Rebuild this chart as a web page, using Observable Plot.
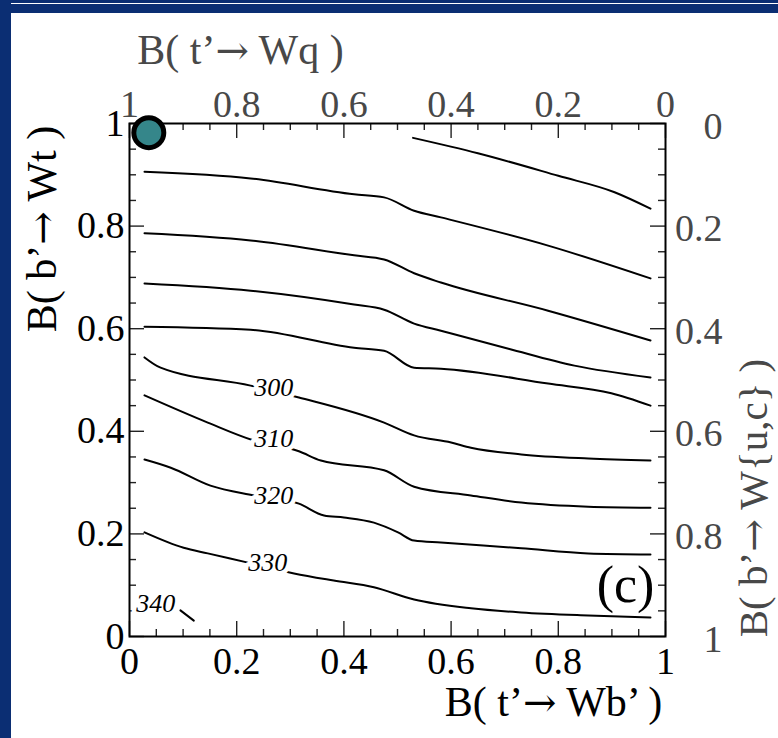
<!DOCTYPE html>
<html><head><meta charset="utf-8">
<script src="https://cdn.jsdelivr.net/npm/d3@7"></script>
<script src="https://cdn.jsdelivr.net/npm/@observablehq/plot@0.6"></script>
<style>
html,body{margin:0;padding:0;}
body{width:778px;height:738px;background:#0b2e73;position:relative;overflow:hidden;}
#paper{position:absolute;left:11px;top:13px;width:767px;height:725px;background:#fff;}
#topline{position:absolute;left:11px;top:3px;width:767px;height:1px;background:#fff;}
#chart{position:absolute;left:0;top:0;}
</style></head><body>
<div id="topline"></div><div id="paper"></div><div id="chart"></div>
<script>
// ---- data ----
const majorTicks = [0, 0.2, 0.4, 0.6, 0.8, 1];
const minorTicks = [0.05, 0.1, 0.15, 0.25, 0.3, 0.35, 0.45, 0.5, 0.55, 0.65, 0.7, 0.75, 0.85, 0.9, 0.95];

const c250 = [[0.529,0.972],[0.65,0.942],[0.80,0.898],[0.905,0.866],[0.972,0.834]];
const c260 = [[0.028,0.906],[0.226,0.893],[0.419,0.862],[0.475,0.856],[0.531,0.830],[0.581,0.817],[0.781,0.762],[0.972,0.698]];
const c270 = [[0.028,0.786],[0.226,0.772],[0.419,0.743],[0.475,0.735],[0.531,0.708],[0.581,0.690],[0.781,0.635],[0.972,0.577]];
const c280 = [[0.028,0.688],[0.226,0.674],[0.419,0.647],[0.475,0.637],[0.531,0.610],[0.581,0.596],[0.707,0.561],[0.830,0.528],[0.972,0.505]];
const c290 = [[0.028,0.604],[0.226,0.598],[0.419,0.563],[0.475,0.557],[0.531,0.524],[0.581,0.522],[0.781,0.493],[0.899,0.474],[0.972,0.450]];
const c300 = [[0.028,0.544],[0.058,0.524],[0.226,0.489],[0.316,0.466],[0.475,0.417],[0.531,0.392],[0.600,0.378],[0.637,0.368],[0.731,0.355],[0.856,0.347],[0.972,0.343]];
const c310 = [[0.028,0.470],[0.146,0.417],[0.232,0.382],[0.316,0.361],[0.357,0.343],[0.475,0.324],[0.531,0.292],[0.637,0.275],[0.731,0.261],[0.856,0.253],[0.972,0.251]];
const c320 = [[0.028,0.345],[0.077,0.329],[0.151,0.294],[0.232,0.275],[0.316,0.259],[0.363,0.236],[0.400,0.232],[0.456,0.222],[0.501,0.203],[0.531,0.187],[0.581,0.183],[0.731,0.172],[0.856,0.162],[0.972,0.160]];
const c330 = [[0.028,0.203],[0.101,0.173],[0.146,0.162],[0.221,0.144],[0.307,0.123],[0.381,0.109],[0.456,0.096],[0.531,0.072],[0.637,0.055],[0.731,0.047],[0.856,0.041],[0.972,0.037]];
const c340 = [[0.095,0.051],[0.120,0.031]];
const contours = [c250, c260, c270, c280, c290, c300, c310, c320, c330, c340];

const labelText = ["300", "310", "320", "330", "340"];
const labelX = [0.269, 0.269, 0.269, 0.258, 0.049];
const labelY = [0.486, 0.386, 0.275, 0.144, 0.064];

const pointX = [0.036];
const pointY = [0.982];

const titleBottom = "B( t’→ Wb’ )";
const titleTop = "B( t’→ Wq )";
const titleLeft = "B( b’→ Wt )";
const titleRight = "B( b’→ W{u,c} )";
const panelLabel = "(c)";

// ---- layout ----
const W = 778, Hh = 738;
const mL = 129, mR = 113, mT = 123, mB = 102;
const fw = W - mL - mR, fh = Hh - mT - mB;
const majLen = 15, minLen = 7;
const gray = "#484848";
const fmt = d => String(Math.round(d * 10) / 10);

const labels = labelText.map((t, i) => ({t, x: labelX[i], y: labelY[i]}));
const points = pointX.map((x, i) => ({x, y: pointY[i]}));

const tickStyle = {stroke: "#222", strokeWidth: 1.4};
const marks = [
  Plot.tickX(majorTicks, {x: d => d, insetTop: fh - majLen, ...tickStyle}),
  Plot.tickX(minorTicks, {x: d => d, insetTop: fh - minLen, ...tickStyle}),
  Plot.tickX(majorTicks, {x: d => d, insetBottom: fh - majLen, ...tickStyle}),
  Plot.tickX(minorTicks, {x: d => d, insetBottom: fh - minLen, ...tickStyle}),
  Plot.tickY(majorTicks, {y: d => d, insetRight: fw - majLen, ...tickStyle}),
  Plot.tickY(minorTicks, {y: d => d, insetRight: fw - minLen, ...tickStyle}),
  Plot.tickY(majorTicks, {y: d => d, insetLeft: fw - majLen, ...tickStyle}),
  Plot.tickY(minorTicks, {y: d => d, insetLeft: fw - minLen, ...tickStyle}),
  Plot.frame({stroke: "#000", strokeWidth: 2}),
  ...contours.map(c => Plot.line(c, {x: d => d[0], y: d => d[1], stroke: "#000", strokeWidth: 2, curve: "monotone-x"})),
  Plot.text(labels, {x: "x", y: "y", text: "t", fontSize: 26, fontStyle: "italic", fill: "#000", stroke: "white", strokeWidth: 9, lineAnchor: "middle"}),
  Plot.text(majorTicks, {x: d => d, frameAnchor: "bottom", dy: 25, text: fmt, fontSize: 38, fill: "#000", textAnchor: "middle", lineAnchor: "middle"}),
  Plot.text(majorTicks, {y: d => d, frameAnchor: "left", dx: -5, text: fmt, fontSize: 38, fill: "#000", textAnchor: "end", lineAnchor: "middle"}),
  Plot.text(majorTicks, {x: d => d, frameAnchor: "top", dy: -19, text: d => fmt(1 - d), fontSize: 38, fill: gray, textAnchor: "middle", lineAnchor: "middle"}),
  Plot.text(majorTicks, {y: d => d, frameAnchor: "right", dx: 57, dy: 3, text: d => fmt(1 - d), fontSize: 38, fill: gray, textAnchor: "end", lineAnchor: "middle"}),
  Plot.text([titleBottom], {frameAnchor: "bottom", dx: 156, dy: 66, text: d => d, fontSize: 42, fill: "#000", textAnchor: "middle", lineAnchor: "middle"}),
  Plot.text([titleTop], {frameAnchor: "top-left", dx: 111, dy: -73, text: d => d, fontSize: 42, fill: gray, textAnchor: "middle", lineAnchor: "middle"}),
  Plot.text([titleLeft], {frameAnchor: "left", dx: -87, dy: -151, rotate: -90, text: d => d, fontSize: 42, fill: "#000", textAnchor: "middle", lineAnchor: "middle"}),
  Plot.text([titleRight], {frameAnchor: "right", dx: 88, dy: 118, rotate: -90, text: d => d, fontSize: 41, fill: gray, textAnchor: "middle", lineAnchor: "middle"}),
  Plot.text([panelLabel], {frameAnchor: "bottom-right", dx: -40, dy: -51, text: d => d, fontSize: 52, fill: "#000", textAnchor: "middle", lineAnchor: "middle"}),
  Plot.dot(points, {x: "x", y: "y", r: 15, fill: "#35868a", stroke: "#000", strokeWidth: 5})
];

const chart = Plot.plot({
  width: W, height: Hh,
  marginLeft: mL, marginRight: mR, marginTop: mT, marginBottom: mB,
  x: {domain: [0, 1], axis: null},
  y: {domain: [0, 1], axis: null},
  style: {background: "transparent", fontFamily: "'Liberation Serif', serif", overflow: "visible"},
  marks
});

// render the arrow glyph with a font whose arrow is full width
d3.select(chart).selectAll("text").each(function() {
  const s = this.textContent;
  if (!s.includes("→") || this.querySelector("tspan")) return;
  const [a, b] = s.split("→");
  const sel = d3.select(this);
  sel.text(null);
  sel.append("tspan").text(a);
  sel.append("tspan").attr("font-family", "'DejaVu Serif'").attr("font-size", "0.95em").text("→");
  sel.append("tspan").text(b);
});
document.getElementById("chart").appendChild(chart);
</script></body></html>
